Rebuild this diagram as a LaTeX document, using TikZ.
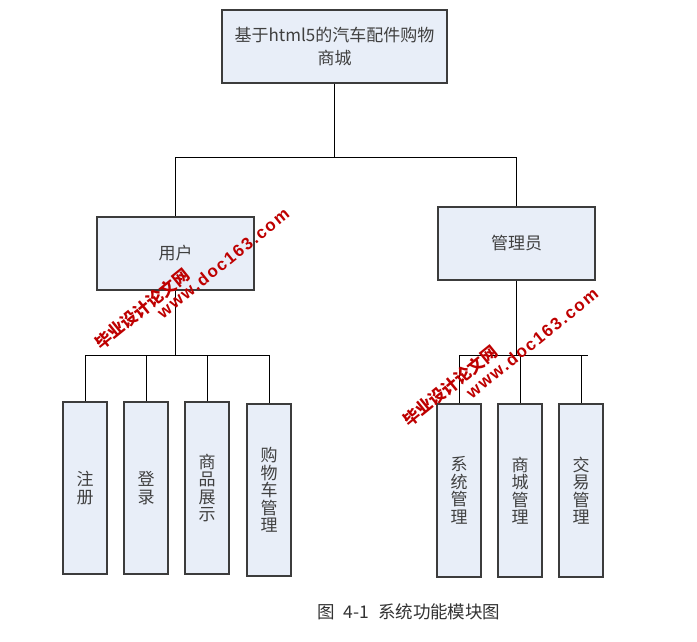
\documentclass[tikz,border=0pt]{standalone}
\usepackage{fontspec}
\newfontfamily\cjk{Noto Sans CJK SC}
\newfontfamily\wmfont[LetterSpace=10]{Liberation Sans}
\definecolor{boxfill}{RGB}{232,238,248}
\definecolor{boxline}{RGB}{60,60,60}
\definecolor{wmred}{RGB}{190,0,0}
\begin{document}
\begin{tikzpicture}[x=1pt,y=-1pt,
  box/.style={draw=boxline, line width=1.2pt, fill=boxfill, inner sep=0pt,
    font=\cjk\fontsize{17}{23}\selectfont, align=center, text=black!75},
  leaf/.style={box, minimum width=44pt, font=\cjk\fontsize{17}{17.5}\selectfont},
  conn/.style={draw=black, line width=0.9pt},
  wmcn/.style={text=wmred, font=\cjk\bfseries\fontsize{16.5}{17}\selectfont, rotate=39, inner sep=0pt},
  wmen/.style={text=wmred, font=\wmfont\bfseries\fontsize{17}{18}\selectfont, rotate=39, inner sep=0pt}]
\useasboundingbox (0,0) rectangle (697,642);
\fill[white] (0,0) rectangle (697,642);
% boxes
\node[box, minimum width=225pt, minimum height=73pt] (top) at (334.5,46.5) {基于html5的汽车配件购物\\商城};
\node[box, minimum width=157pt, minimum height=73pt] (user) at (175.5,253.5) {用户};
\node[box, minimum width=157pt, minimum height=73pt] (admin) at (516.5,243.5) {管理员};
\node[leaf, minimum height=172pt] (u1) at (85,488) {注\\册};
\node[leaf, minimum height=172pt] (u2) at (146,488) {登\\录};
\node[leaf, minimum height=172pt] (u3) at (207,488) {商\\品\\展\\示};
\node[leaf, minimum height=172pt] (u4) at (269,490) {购\\物\\车\\管\\理};
\node[leaf, minimum height=173pt] (a1) at (459,490.5) {系\\统\\管\\理};
\node[leaf, minimum height=173pt] (a2) at (520,490.5) {商\\城\\管\\理};
\node[leaf, minimum height=173pt] (a3) at (581,490.5) {交\\易\\管\\理};
% junction coordinates
\coordinate (j1) at (0,157);
\coordinate (j2) at (0,355);
\coordinate (aend) at (588,355);
% connectors
\draw[conn] (top.south) -- (top.south |- j1);
\draw[conn] (user.north) |- (admin.north |- j1) -- (admin.north);
\draw[conn] (user.south) -- (user.south |- j2);
\draw[conn] (u1.north) |- (u4.north |- j2) -- (u4.north);
\draw[conn] (u2.north) -- (u2.north |- j2);
\draw[conn] (u3.north) -- (u3.north |- j2);
\draw[conn] (admin.south) -- (admin.south |- j2);
\draw[conn] (a1.north) |- (aend);
\draw[conn] (a2.north) -- (a2.north |- j2);
\draw[conn] (a3.north) -- (a3.north |- j2);
% caption
\node[font=\cjk\fontsize{17.5}{19}\selectfont, text=black!80] (cap) at (409,612) {图\hspace{0.5em}4-1\hspace{0.5em}系统功能模块图};
% watermarks
\node[wmcn] (w1c) at (142,309) {毕业设计论文网};
\node[wmen] (w1e) at (223,263) {www.doc163.com};
\node[wmcn] (w2c) at (450,386) {毕业设计论文网};
\node[wmen] (w2e) at (532,343) {www.doc163.com};
\end{tikzpicture}
\end{document}
